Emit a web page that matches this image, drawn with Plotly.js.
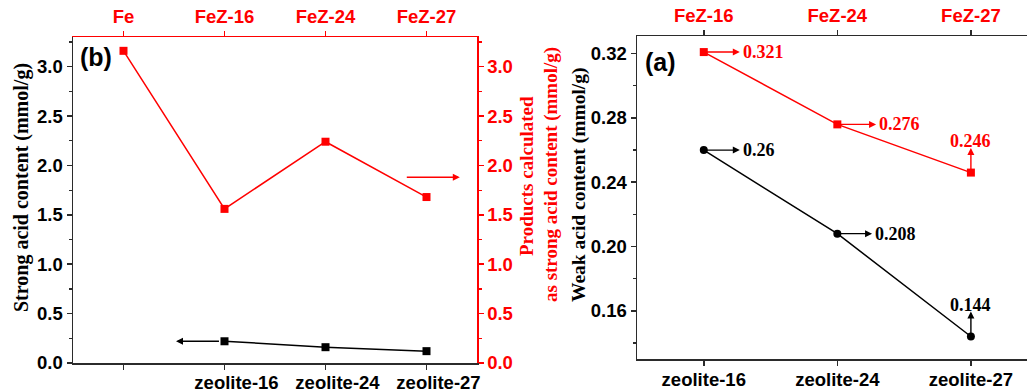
<!DOCTYPE html>
<html><head><meta charset="utf-8">
<script src="https://cdn.plot.ly/plotly-3.0.1.min.js"></script>
<style>html,body{margin:0;padding:0;background:#fff}#chart{width:1027px;height:392px}</style>
</head><body><div id="chart"></div>
<script>
// Panel (b)
const topCatsB = ['Fe', 'FeZ-16', 'FeZ-24', 'FeZ-27'];
const bottomCatsB = ['', 'zeolite-16', 'zeolite-24', 'zeolite-27'];
const productsStrong = [3.16, 1.56, 2.24, 1.68];
const strongAcidPos = [1, 2, 3];
const strongAcid = [0.22, 0.16, 0.12];
// Panel (a)
const topCatsA = ['FeZ-16', 'FeZ-24', 'FeZ-27'];
const bottomCatsA = ['zeolite-16', 'zeolite-24', 'zeolite-27'];
const productsWeak = [0.321, 0.276, 0.246];
const weakAcid = [0.26, 0.208, 0.144];
const labelsProducts = ['0.321', '0.276', '0.246'];
const labelsWeak = ['0.26', '0.208', '0.144'];

const RED = '#ff0000', BLK = '#000000', AX = '#2b2b2b';
const SANS = 'Arial, "Liberation Sans", sans-serif';
const SERIF = '"Times New Roman", "Liberation Serif", serif';
const idx = a => a.map((_, i) => i);

const traces = [
  {x: idx(productsStrong), y: productsStrong, xaxis: 'x2', yaxis: 'y2', mode: 'lines+markers',
   line: {color: RED, width: 1.5}, marker: {symbol: 'square', size: 8, color: RED}},
  {x: strongAcidPos, y: strongAcid, xaxis: 'x', yaxis: 'y', mode: 'lines+markers',
   line: {color: BLK, width: 1.5}, marker: {symbol: 'square', size: 8, color: BLK}},
  {x: idx(productsWeak), y: productsWeak, xaxis: 'x4', yaxis: 'y3', mode: 'lines+markers',
   line: {color: RED, width: 1.5}, marker: {symbol: 'square', size: 8, color: RED}},
  {x: idx(weakAcid), y: weakAcid, xaxis: 'x3', yaxis: 'y3', mode: 'lines+markers',
   line: {color: BLK, width: 1.5}, marker: {symbol: 'circle', size: 8, color: BLK}}
];

function axBase(color, lineColor) {
  return {showline: true, linecolor: lineColor, linewidth: 1.5, ticks: 'outside', ticklen: 5,
    tickwidth: 1.5, tickcolor: lineColor, showgrid: false, zeroline: false, fixedrange: true,
    tickfont: {family: SANS, size: 18.5, color: color, weight: 'bold'}};
}

const dB = [73 / 1027, 477 / 1027], yB = [(392 - 363) / 392, (392 - 37) / 392];
const dA = [637 / 1027, 1], yA = [(392 - 359) / 392, (392 - 36) / 392];

const layout = {
  width: 1027, height: 392, margin: {l: 0, r: 0, t: 0, b: 0}, showlegend: false,
  paper_bgcolor: '#fff', plot_bgcolor: 'rgba(0,0,0,0)',
  xaxis: Object.assign(axBase(BLK, AX), {domain: dB, range: [-0.5, 3.5], anchor: 'y',
    tickvals: idx(bottomCatsB), ticktext: bottomCatsB, ticklabelstandoff: -3, ticklabelshift: 12}),
  xaxis2: Object.assign(axBase(RED, RED), {overlaying: 'x', side: 'top', anchor: 'y', range: [-0.5, 3.5],
    tickvals: idx(topCatsB), ticktext: topCatsB}),
  yaxis: Object.assign(axBase(BLK, AX), {domain: yB, range: [0, 3.3], anchor: 'x', dtick: 0.5, tickformat: '.1f',
    minor: {dtick: 0.25, ticks: 'outside', ticklen: 3, tickcolor: AX, tickwidth: 1.2}}),
  yaxis2: Object.assign(axBase(RED, RED), {overlaying: 'y', side: 'right', anchor: 'x', range: [0, 3.3], dtick: 0.5, tickformat: '.1f',
    minor: {dtick: 0.25, ticks: 'outside', ticklen: 3, tickcolor: RED, tickwidth: 1.2}}),
  xaxis3: Object.assign(axBase(BLK, AX), {domain: dA, range: [-0.5, 2.42], anchor: 'y3',
    tickvals: idx(bottomCatsA), ticktext: bottomCatsA, ticklabelstandoff: -2}),
  xaxis4: Object.assign(axBase(RED, AX), {overlaying: 'x3', side: 'top', anchor: 'y3', range: [-0.5, 2.42],
    tickvals: idx(topCatsA), ticktext: topCatsA}),
  yaxis3: Object.assign(axBase(BLK, AX), {domain: yA, range: [0.13, 0.331], anchor: 'x3', dtick: 0.04, tick0: 0, tickformat: '.2f',
    minor: {dtick: 0.02, ticks: 'outside', ticklen: 3, tickcolor: AX, tickwidth: 1.2}}),
  annotations: []
};

const ann = layout.annotations;
function paperText(px, py, txt, font, angle) {
  ann.push({xref: 'paper', yref: 'paper', x: px / 1027, y: (392 - py) / 392, text: txt, showarrow: false,
    xanchor: 'center', yanchor: 'middle', textangle: angle || 0, font: font});
}
// panel letters
paperText(96, 57, '(b)', {family: SANS, size: 25, color: BLK, weight: 'bold'});
paperText(660, 62, '(a)', {family: SANS, size: 25, color: BLK, weight: 'bold'});
// axis titles
const titleFont = (c, s) => ({family: SERIF, size: s, color: c, weight: 'bold'});
paperText(21, 188, 'Strong acid content (mmol/g)', titleFont(BLK, 20), -90);
paperText(526, 176, 'Products calculated', titleFont(RED, 19), -90);
paperText(551, 175, 'as strong acid content (mmol/g)', titleFont(RED, 19), -90);
paperText(579, 185, 'Weak acid content (mmol/g)', titleFont(BLK, 19.5), -90);

function arrow(xr, yr, x0, y0, x1, y1, color) {
  ann.push({xref: xr, yref: yr, axref: xr, ayref: yr, x: x1, y: y1, ax: x0, ay: y0, text: '',
    showarrow: true, arrowhead: 2, arrowsize: 1, arrowwidth: 1.4, arrowcolor: color, standoff: 0, startstandoff: 0});
}
// panel (b) axis-indicator arrows
arrow('x', 'y', strongAcidPos[0] - 0.04, strongAcid[0], strongAcidPos[0] - 0.48, strongAcid[0], BLK);
arrow('x2', 'y2', 2.79, 1.88, 3.33, 1.88, RED);

// panel (a) value labels
const valFont = c => ({family: SERIF, size: 18, color: c, weight: 'bold'});
function sideLabel(xr, yr, i, v, txt, len, color) {
  arrow(xr, yr, i, v, i + len, v, color);
  ann.push({xref: xr, yref: yr, x: i + len + 0.01, y: v, text: txt, showarrow: false, xanchor: 'left',
    yanchor: 'middle', font: valFont(color)});
}
function upLabel(xr, yr, i, v, txt, dy, color) {
  arrow(xr, yr, i, v, i, v + dy, color);
  ann.push({xref: xr, yref: yr, x: i, y: v + dy, text: txt, showarrow: false, xanchor: 'center',
    yanchor: 'bottom', yshift: -5, font: valFont(color)});
}
sideLabel('x4', 'y3', 0, productsWeak[0], labelsProducts[0], 0.27, RED);
sideLabel('x4', 'y3', 1, productsWeak[1], labelsProducts[1], 0.29, RED);
upLabel('x4', 'y3', 2, productsWeak[2], labelsProducts[2], 0.0153, RED);
sideLabel('x3', 'y3', 0, weakAcid[0], labelsWeak[0], 0.27, BLK);
sideLabel('x3', 'y3', 1, weakAcid[1], labelsWeak[1], 0.26, BLK);
upLabel('x3', 'y3', 2, weakAcid[2], labelsWeak[2], 0.0155, BLK);

Plotly.newPlot('chart', traces, layout, {staticPlot: true, displayModeBar: false});
</script>
</body></html>
